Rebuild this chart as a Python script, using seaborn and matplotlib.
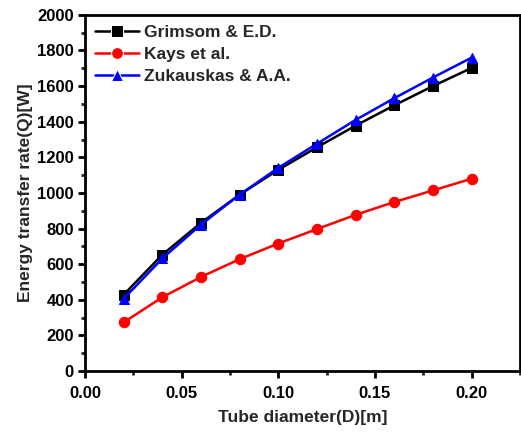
import matplotlib
matplotlib.use("Agg")
import matplotlib.pyplot as plt
from matplotlib.ticker import MultipleLocator, AutoMinorLocator, FormatStrFormatter
import seaborn as sns
import pandas as pd

# Tube diameter [m]
diameter = [0.02, 0.04, 0.06, 0.08, 0.10, 0.12, 0.14, 0.16, 0.18, 0.20]

# Energy transfer rate Q [W] per correlation
grimsom = [428, 653, 832, 990, 1130, 1256, 1378, 1492, 1600, 1702]
kays = [273, 414, 528, 628, 716, 797, 877, 949, 1014, 1080]
zukauskas = [405, 632, 822, 990, 1141, 1276, 1410, 1532, 1648, 1760]

series_names = ["Grimsom & E.D.", "Kays et al.", "Zukauskas & A.A."]
series_values = [grimsom, kays, zukauskas]
colors = ["black", "#ff0000", "#0000ff"]
markers = ["s", "o", "^"]

sns.set_theme(style="ticks")
plt.rcParams["font.family"] = ["Liberation Sans", "DejaVu Sans"]
plt.rcParams["font.weight"] = "bold"

frames = []
for name, vals in zip(series_names, series_values):
    frames.append(pd.DataFrame({"D": diameter, "Q": vals, "model": name}))
df = pd.concat(frames, ignore_index=True)

fig = plt.figure(figsize=(5.21, 4.37), dpi=100)
ax = fig.add_axes([0.163, 0.151, 0.835, 0.815])

sns.lineplot(
    data=df, x="D", y="Q", hue="model", style="model",
    palette=dict(zip(series_names, colors)),
    markers=dict(zip(series_names, markers)),
    dashes=False, markersize=7.5, linewidth=1.8,
    ax=ax,
)
for line, c in zip(ax.lines, colors):
    line.set_markeredgecolor(c)

ax.set_xlim(0, 0.225)
ax.set_ylim(0, 2000)
ax.xaxis.set_major_locator(MultipleLocator(0.05))
ax.xaxis.set_minor_locator(AutoMinorLocator(2))
ax.yaxis.set_major_locator(MultipleLocator(200))
ax.yaxis.set_minor_locator(AutoMinorLocator(2))
ax.xaxis.set_major_formatter(FormatStrFormatter("%.2f"))

ax.tick_params(axis="both", which="major", direction="out", length=5, width=2,
               labelsize=12, colors="black", pad=3)
ax.tick_params(axis="x", which="major", pad=6)
ax.tick_params(axis="both", which="minor", direction="out", length=3, width=2)
for lab in ax.get_xticklabels() + ax.get_yticklabels():
    lab.set_fontweight("bold")

for sp in ax.spines.values():
    sp.set_linewidth(2)
    sp.set_color("black")

ax.set_xlabel("Tube diameter(D)[m]", fontsize=12.5, fontweight="bold", labelpad=6)
ax.set_ylabel("Energy transfer rate(Q)[W]", fontsize=12.5, fontweight="bold", labelpad=3)

handles, labels = ax.get_legend_handles_labels()
for h in handles:
    h.set_markersize(8.5)
leg = ax.legend(handles, labels, loc="upper left", frameon=False,
                prop={"weight": "bold", "size": 12.5}, handlelength=2.5,
                handletextpad=0.3, borderaxespad=0.2, labelspacing=0.38)

fig.savefig("out.png", dpi=100, facecolor="white")
